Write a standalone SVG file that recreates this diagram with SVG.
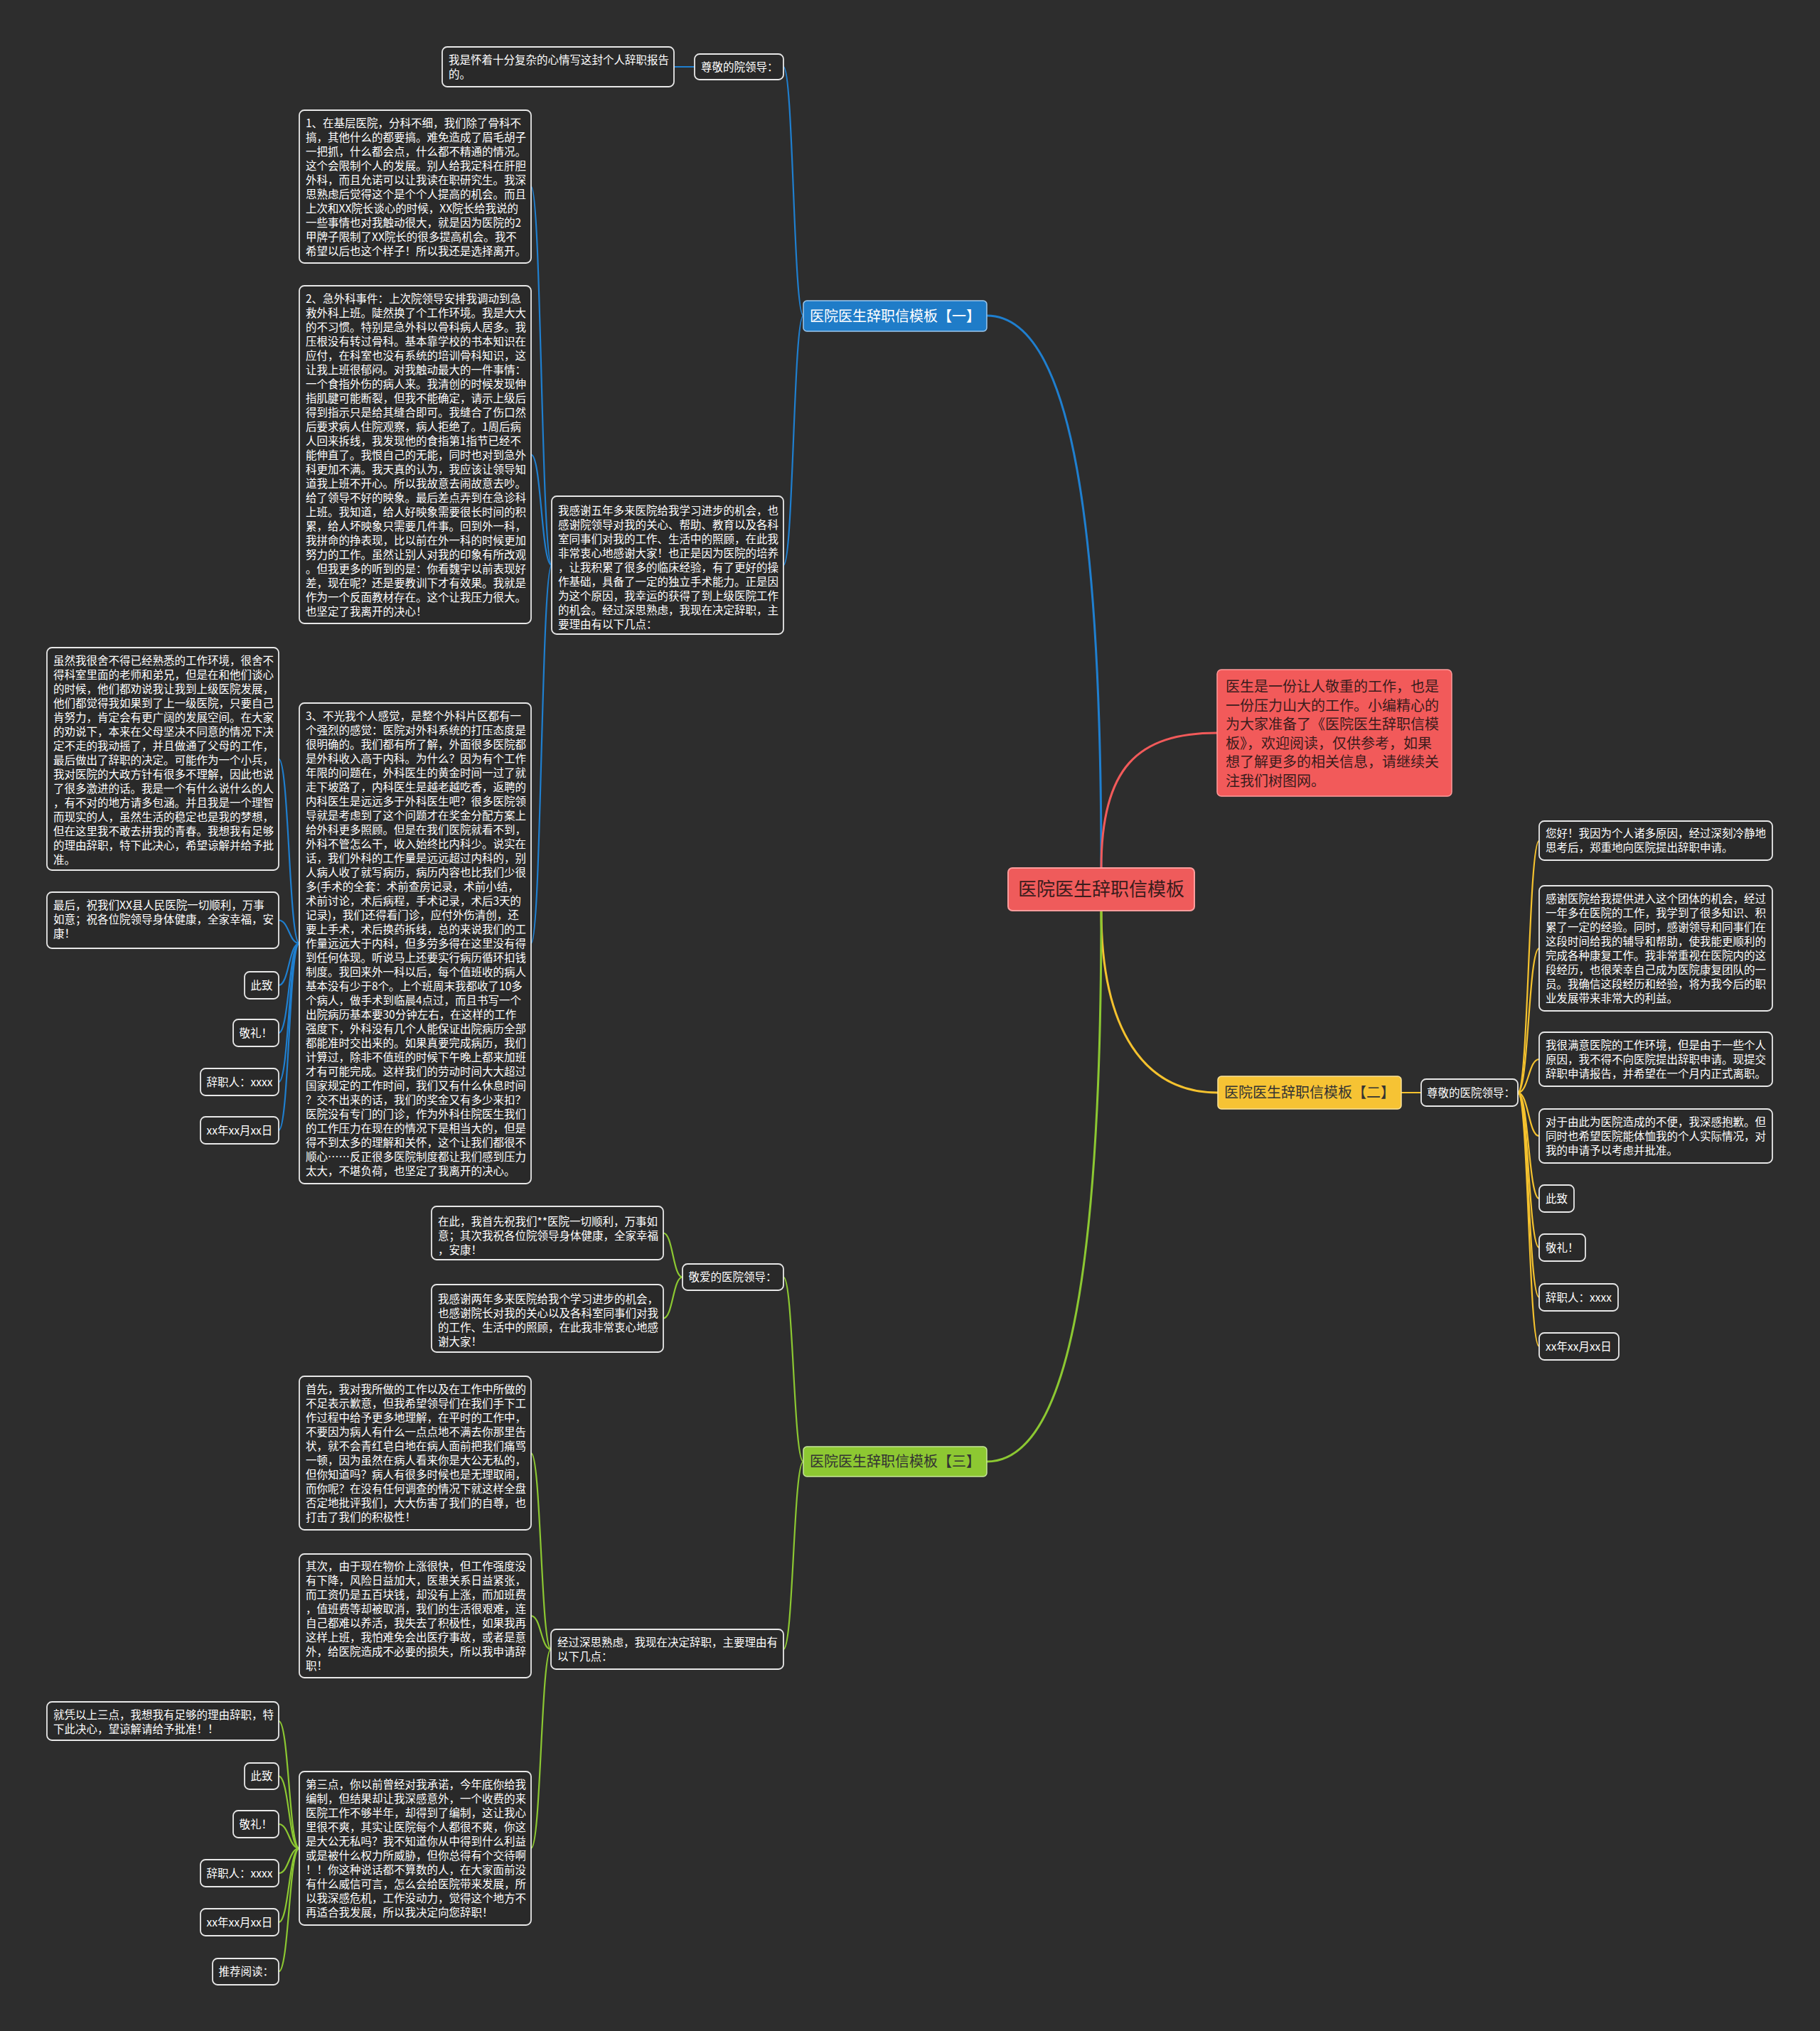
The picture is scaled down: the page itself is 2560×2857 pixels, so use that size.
<svg xmlns="http://www.w3.org/2000/svg" width="2560" height="2857" viewBox="0 0 2560 2857">
<style>
text{font-family:"Noto Sans CJK SC","Noto Sans",sans-serif}
.bx{fill:#292929;stroke:#e8e8e8;stroke-width:1.8}
.t{font-size:15.5px;fill:#ffffff}
.c{fill:none;stroke-width:2.2;stroke-linecap:round}
.cb{stroke:#1f7fcf}.cr{stroke:#f25a5a}.cy{stroke:#f5c22e}.cg{stroke:#8cc832}
.main{stroke-width:3}
.br{font-size:20px}
</style>
<rect width="2560" height="2857" fill="#2d2d2d"/>
<g id="connectors">
<path class="c cb main" d="M1549 1221 C1549 700 1500 444 1388 444"/>
<path class="c cr main" d="M1549 1221 C1549 1080 1600 1031 1712 1031"/>
<path class="c cy main" d="M1549 1281 C1549 1450 1610 1537 1713 1537"/>
<path class="c cg main" d="M1549 1281 C1549 1800 1500 2056 1388 2056"/>
<path class="c cb" d="M1130 444 C1116 444 1116 94 1102 94"/>
<path class="c cb" d="M1130 444 C1116 444 1116 795 1102 795"/>
<path class="c cb" d="M977 94 L948 94"/>
<path class="c cb" d="M776 795 C761.5 795 761.5 262.5 747 262.5"/>
<path class="c cb" d="M776 795 C761.5 795 761.5 639.5 747 639.5"/>
<path class="c cb" d="M776 795 C761.5 795 761.5 1327 747 1327"/>
<path class="c cb" d="M421 1327 C406.5 1327 406.5 1067.5 392 1067.5"/>
<path class="c cb" d="M421 1327 C406.5 1327 406.5 1294.5 392 1294.5"/>
<path class="c cb" d="M421 1327 C406.5 1327 406.5 1386 392 1386"/>
<path class="c cb" d="M421 1327 C406.5 1327 406.5 1453 392 1453"/>
<path class="c cb" d="M421 1327 C406.5 1327 406.5 1522 392 1522"/>
<path class="c cb" d="M421 1327 C406.5 1327 406.5 1590 392 1590"/>
<path class="c cy" d="M1971 1537 L1999 1537"/>
<path class="c cy" d="M2135 1537 C2150 1537 2150 1182.5 2165 1182.5"/>
<path class="c cy" d="M2135 1537 C2150 1537 2150 1334 2165 1334"/>
<path class="c cy" d="M2135 1537 C2150 1537 2150 1490 2165 1490"/>
<path class="c cy" d="M2135 1537 C2150 1537 2150 1598 2165 1598"/>
<path class="c cy" d="M2135 1537 C2150 1537 2150 1686 2165 1686"/>
<path class="c cy" d="M2135 1537 C2150 1537 2150 1755 2165 1755"/>
<path class="c cy" d="M2135 1537 C2150 1537 2150 1825 2165 1825"/>
<path class="c cy" d="M2135 1537 C2150 1537 2150 1894 2165 1894"/>
<path class="c cg" d="M1130 2056 C1116 2056 1116 1796.5 1102 1796.5"/>
<path class="c cg" d="M1130 2056 C1116 2056 1116 2320 1102 2320"/>
<path class="c cg" d="M960 1796.5 C946.5 1796.5 946.5 1734.5 933 1734.5"/>
<path class="c cg" d="M960 1796.5 C946.5 1796.5 946.5 1854.5 933 1854.5"/>
<path class="c cg" d="M775 2320 C761 2320 761 2044 747 2044"/>
<path class="c cg" d="M775 2320 C761 2320 761 2273 747 2273"/>
<path class="c cg" d="M775 2320 C761 2320 761 2600 747 2600"/>
<path class="c cg" d="M421 2600 C406.5 2600 406.5 2421 392 2421"/>
<path class="c cg" d="M421 2600 C406.5 2600 406.5 2498.5 392 2498.5"/>
<path class="c cg" d="M421 2600 C406.5 2600 406.5 2566 392 2566"/>
<path class="c cg" d="M421 2600 C406.5 2600 406.5 2635 392 2635"/>
<path class="c cg" d="M421 2600 C406.5 2600 406.5 2704 392 2704"/>
<path class="c cg" d="M421 2600 C406.5 2600 406.5 2773.5 392 2773.5"/>
</g>

<g id="root">
<rect x="1418" y="1221" width="262" height="60" rx="6" fill="#ef5b5b" stroke="#ff9c9c" stroke-width="2"/>
<text x="1549" y="1260" font-size="26" fill="#3a1c1c" text-anchor="middle">医院医生辞职信模板</text>
</g>
<g id="desc">
<rect x="1712" y="942" width="330" height="178" rx="6" fill="#f25a5a" stroke="#ff9c9c" stroke-width="1.5"/>
<text x="1724" y="973" font-size="20" fill="#3a1c1c"><tspan x="1724">医生是一份让人敬重的工作，也是</tspan><tspan x="1724" dy="26.6">一份压力山大的工作。小编精心的</tspan><tspan x="1724" dy="26.6">为大家准备了《医院医生辞职信模</tspan><tspan x="1724" dy="26.6">板》，欢迎阅读，仅供参考，如果</tspan><tspan x="1724" dy="26.6">想了解更多的相关信息，请继续关</tspan><tspan x="1724" dy="26.6">注我们树图网。</tspan></text>
</g>

<g id="branch1">
<rect x="1130" y="423" width="258" height="43" rx="5" fill="#1f7cc8" stroke="#9cc8ee" stroke-width="1.5"/>
<text x="1259" y="451.5" class="br" fill="#ffffff" text-anchor="middle">医院医生辞职信模板【一】</text>
</g>
<g id="b1-greet">
<rect class="bx" x="977" y="76" width="125" height="36" rx="7"/>
<text class="t" x="986" y="99.5">尊敬的院领导：</text>
</g>
<g id="b1-intro">
<rect class="bx" x="622" y="66" width="326" height="56" rx="7"/>
<text class="t" x="631" y="90"><tspan x="631">我是怀着十分复杂的心情写这封个人辞职报告</tspan><tspan x="631" dy="20">的。</tspan></text>
</g>
<g id="b1-thanks">
<rect class="bx" x="776" y="698" width="326" height="194" rx="7"/>
<text class="t" x="785" y="723.5"><tspan x="785">我感谢五年多来医院给我学习进步的机会，也</tspan><tspan x="785" dy="20">感谢院领导对我的关心、帮助、教育以及各科</tspan><tspan x="785" dy="20">室同事们对我的工作、生活中的照顾，在此我</tspan><tspan x="785" dy="20">非常衷心地感谢大家！也正是因为医院的培养</tspan><tspan x="785" dy="20">，让我积累了很多的临床经验，有了更好的操</tspan><tspan x="785" dy="20">作基础，具备了一定的独立手术能力。正是因</tspan><tspan x="785" dy="20">为这个原因，我幸运的获得了到上级医院工作</tspan><tspan x="785" dy="20">的机会。经过深思熟虑，我现在决定辞职，主</tspan><tspan x="785" dy="20">要理由有以下几点：</tspan></text>
</g>
<g id="b1-p1">
<rect class="bx" x="421" y="155" width="326" height="215" rx="7"/>
<text class="t" x="430" y="178.5"><tspan x="430">1、在基层医院，分科不细，我们除了骨科不</tspan><tspan x="430" dy="20">搞，其他什么的都要搞。难免造成了眉毛胡子</tspan><tspan x="430" dy="20">一把抓，什么都会点，什么都不精通的情况。</tspan><tspan x="430" dy="20">这个会限制个人的发展。别人给我定科在肝胆</tspan><tspan x="430" dy="20">外科，而且允诺可以让我读在职研究生。我深</tspan><tspan x="430" dy="20">思熟虑后觉得这个是个个人提高的机会。而且</tspan><tspan x="430" dy="20">上次和XX院长谈心的时候，XX院长给我说的</tspan><tspan x="430" dy="20">一些事情也对我触动很大，就是因为医院的2</tspan><tspan x="430" dy="20">甲牌子限制了XX院长的很多提高机会。我不</tspan><tspan x="430" dy="20">希望以后也这个样子！所以我还是选择离开。</tspan></text>
</g>
<g id="b1-p2">
<rect class="bx" x="421" y="402" width="326" height="475" rx="7"/>
<text class="t" x="430" y="425.5"><tspan x="430">2、急外科事件：上次院领导安排我调动到急</tspan><tspan x="430" dy="20">救外科上班。陡然换了个工作环境。我是大大</tspan><tspan x="430" dy="20">的不习惯。特别是急外科以骨科病人居多。我</tspan><tspan x="430" dy="20">压根没有转过骨科。基本靠学校的书本知识在</tspan><tspan x="430" dy="20">应付，在科室也没有系统的培训骨科知识，这</tspan><tspan x="430" dy="20">让我上班很郁闷。对我触动最大的一件事情：</tspan><tspan x="430" dy="20">一个食指外伤的病人来。我清创的时候发现伸</tspan><tspan x="430" dy="20">指肌腱可能断裂，但我不能确定，请示上级后</tspan><tspan x="430" dy="20">得到指示只是给其缝合即可。我缝合了伤口然</tspan><tspan x="430" dy="20">后要求病人住院观察，病人拒绝了。1周后病</tspan><tspan x="430" dy="20">人回来拆线，我发现他的食指第1指节已经不</tspan><tspan x="430" dy="20">能伸直了。我恨自己的无能，同时也对到急外</tspan><tspan x="430" dy="20">科更加不满。我天真的认为，我应该让领导知</tspan><tspan x="430" dy="20">道我上班不开心。所以我故意去闹故意去吵。</tspan><tspan x="430" dy="20">给了领导不好的映象。最后差点弄到在急诊科</tspan><tspan x="430" dy="20">上班。我知道，给人好映象需要很长时间的积</tspan><tspan x="430" dy="20">累，给人坏映象只需要几件事。回到外一科，</tspan><tspan x="430" dy="20">我拼命的挣表现，比以前在外一科的时候更加</tspan><tspan x="430" dy="20">努力的工作。虽然让别人对我的印象有所改观</tspan><tspan x="430" dy="20">。但我更多的听到的是：你看魏宇以前表现好</tspan><tspan x="430" dy="20">差，现在呢？还是要教训下才有效果。我就是</tspan><tspan x="430" dy="20">作为一个反面教材存在。这个让我压力很大。</tspan><tspan x="430" dy="20">也坚定了我离开的决心！</tspan></text>
</g>
<g id="b1-p3">
<rect class="bx" x="421" y="989" width="326" height="676" rx="7"/>
<text class="t" x="430" y="1012.5"><tspan x="430">3、不光我个人感觉，是整个外科片区都有一</tspan><tspan x="430" dy="20">个强烈的感觉：医院对外科系统的打压态度是</tspan><tspan x="430" dy="20">很明确的。我们都有所了解，外面很多医院都</tspan><tspan x="430" dy="20">是外科收入高于内科。为什么？因为有个工作</tspan><tspan x="430" dy="20">年限的问题在，外科医生的黄金时间一过了就</tspan><tspan x="430" dy="20">走下坡路了，内科医生是越老越吃香，返聘的</tspan><tspan x="430" dy="20">内科医生是远远多于外科医生吧？很多医院领</tspan><tspan x="430" dy="20">导就是考虑到了这个问题才在奖金分配方案上</tspan><tspan x="430" dy="20">给外科更多照顾。但是在我们医院就看不到，</tspan><tspan x="430" dy="20">外科不管怎么干，收入始终比内科少。说实在</tspan><tspan x="430" dy="20">话，我们外科的工作量是远远超过内科的，别</tspan><tspan x="430" dy="20">人病人收了就写病历，病历内容也比我们少很</tspan><tspan x="430" dy="20">多(手术的全套：术前查房记录，术前小结，</tspan><tspan x="430" dy="20">术前讨论，术后病程，手术记录，术后3天的</tspan><tspan x="430" dy="20">记录)，我们还得看门诊，应付外伤清创，还</tspan><tspan x="430" dy="20">要上手术，术后换药拆线，总的来说我们的工</tspan><tspan x="430" dy="20">作量远远大于内科，但多劳多得在这里没有得</tspan><tspan x="430" dy="20">到任何体现。听说马上还要实行病历循环扣钱</tspan><tspan x="430" dy="20">制度。我回来外一科以后，每个值班收的病人</tspan><tspan x="430" dy="20">基本没有少于8个。上个班周末我都收了10多</tspan><tspan x="430" dy="20">个病人，做手术到临晨4点过，而且书写一个</tspan><tspan x="430" dy="20">出院病历基本要30分钟左右，在这样的工作</tspan><tspan x="430" dy="20">强度下，外科没有几个人能保证出院病历全部</tspan><tspan x="430" dy="20">都能准时交出来的。如果真要完成病历，我们</tspan><tspan x="430" dy="20">计算过，除非不值班的时候下午晚上都来加班</tspan><tspan x="430" dy="20">才有可能完成。这样我们的劳动时间大大超过</tspan><tspan x="430" dy="20">国家规定的工作时间，我们又有什么休息时间</tspan><tspan x="430" dy="20">？交不出来的话，我们的奖金又有多少来扣？</tspan><tspan x="430" dy="20">医院没有专门的门诊，作为外科住院医生我们</tspan><tspan x="430" dy="20">的工作压力在现在的情况下是相当大的，但是</tspan><tspan x="430" dy="20">得不到太多的理解和关怀，这个让我们都很不</tspan><tspan x="430" dy="20">顺心……反正很多医院制度都让我们感到压力</tspan><tspan x="430" dy="20">太大，不堪负荷，也坚定了我离开的决心。</tspan></text>
</g>
<g id="b1-l1">
<rect class="bx" x="66" y="911" width="326" height="313" rx="7"/>
<text class="t" x="75" y="934.5"><tspan x="75">虽然我很舍不得已经熟悉的工作环境，很舍不</tspan><tspan x="75" dy="20">得科室里面的老师和弟兄，但是在和他们谈心</tspan><tspan x="75" dy="20">的时候，他们都劝说我让我到上级医院发展，</tspan><tspan x="75" dy="20">他们都觉得我如果到了上一级医院，只要自己</tspan><tspan x="75" dy="20">肯努力，肯定会有更广阔的发展空间。在大家</tspan><tspan x="75" dy="20">的劝说下，本来在父母坚决不同意的情况下决</tspan><tspan x="75" dy="20">定不走的我动摇了，并且做通了父母的工作，</tspan><tspan x="75" dy="20">最后做出了辞职的决定。可能作为一个小兵，</tspan><tspan x="75" dy="20">我对医院的大政方针有很多不理解，因此也说</tspan><tspan x="75" dy="20">了很多激进的话。我是一个有什么说什么的人</tspan><tspan x="75" dy="20">，有不对的地方请多包涵。并且我是一个理智</tspan><tspan x="75" dy="20">而现实的人，虽然生活的稳定也是我的梦想，</tspan><tspan x="75" dy="20">但在这里我不敢去拼我的青春。我想我有足够</tspan><tspan x="75" dy="20">的理由辞职，特下此决心，希望谅解并给予批</tspan><tspan x="75" dy="20">准。</tspan></text>
</g>
<g id="b1-l2">
<rect class="bx" x="66" y="1255" width="326" height="79" rx="7"/>
<text class="t" x="75" y="1279"><tspan x="75">最后，祝我们XX县人民医院一切顺利，万事</tspan><tspan x="75" dy="20">如意；祝各位院领导身体健康，全家幸福，安</tspan><tspan x="75" dy="20">康！</tspan></text>
</g>
<g id="b1-l3"><rect class="bx" x="344" y="1367" width="48" height="38" rx="7"/><text class="t" x="352.5" y="1391.5">此致</text></g>
<g id="b1-l4"><rect class="bx" x="328" y="1434" width="64" height="38" rx="7"/><text class="t" x="336.5" y="1458.5">敬礼！</text></g>
<g id="b1-l5"><rect class="bx" x="282" y="1503" width="110" height="38" rx="7"/><text class="t" x="290.5" y="1527.5">辞职人：xxxx</text></g>
<g id="b1-l6"><rect class="bx" x="282" y="1571" width="110" height="38" rx="7"/><text class="t" x="290.5" y="1595.5">xx年xx月xx日</text></g>

<g id="branch2">
<rect x="1713" y="1514" width="258" height="46" rx="5" fill="#f6c334" stroke="#fbe39a" stroke-width="1.5"/>
<text x="1842" y="1544" class="br" fill="#333333" text-anchor="middle">医院医生辞职信模板【二】</text>
</g>
<g id="b2-greet"><rect class="bx" x="1999" y="1518" width="136" height="38" rx="7"/><text class="t" x="2007" y="1542.5">尊敬的医院领导：</text></g>
<g id="b2-r1">
<rect class="bx" x="2165" y="1155" width="328" height="55" rx="7"/>
<text class="t" x="2174" y="1178"><tspan x="2174">您好！我因为个人诸多原因，经过深刻冷静地</tspan><tspan x="2174" dy="20">思考后，郑重地向医院提出辞职申请。</tspan></text>
</g>
<g id="b2-r2">
<rect class="bx" x="2165" y="1246" width="328" height="176" rx="7"/>
<text class="t" x="2174" y="1269.5"><tspan x="2174">感谢医院给我提供进入这个团体的机会，经过</tspan><tspan x="2174" dy="20">一年多在医院的工作，我学到了很多知识、积</tspan><tspan x="2174" dy="20">累了一定的经验。同时，感谢领导和同事们在</tspan><tspan x="2174" dy="20">这段时间给我的辅导和帮助，使我能更顺利的</tspan><tspan x="2174" dy="20">完成各种康复工作。我非常重视在医院内的这</tspan><tspan x="2174" dy="20">段经历，也很荣幸自己成为医院康复团队的一</tspan><tspan x="2174" dy="20">员。我确信这段经历和经验，将为我今后的职</tspan><tspan x="2174" dy="20">业发展带来非常大的利益。</tspan></text>
</g>
<g id="b2-r3">
<rect class="bx" x="2165" y="1452" width="328" height="76" rx="7"/>
<text class="t" x="2174" y="1475.5"><tspan x="2174">我很满意医院的工作环境，但是由于一些个人</tspan><tspan x="2174" dy="20">原因，我不得不向医院提出辞职申请。现提交</tspan><tspan x="2174" dy="20">辞职申请报告，并希望在一个月内正式离职。</tspan></text>
</g>
<g id="b2-r4">
<rect class="bx" x="2165" y="1560" width="328" height="76" rx="7"/>
<text class="t" x="2174" y="1583.5"><tspan x="2174">对于由此为医院造成的不便，我深感抱歉。但</tspan><tspan x="2174" dy="20">同时也希望医院能体恤我的个人实际情况，对</tspan><tspan x="2174" dy="20">我的申请予以考虑并批准。</tspan></text>
</g>
<g id="b2-r5"><rect class="bx" x="2165" y="1667" width="49" height="38" rx="7"/><text class="t" x="2174" y="1691.5">此致</text></g>
<g id="b2-r6"><rect class="bx" x="2165" y="1736" width="65" height="38" rx="7"/><text class="t" x="2174" y="1760.5">敬礼！</text></g>
<g id="b2-r7"><rect class="bx" x="2165" y="1806" width="111" height="38" rx="7"/><text class="t" x="2174" y="1830.5">辞职人：xxxx</text></g>
<g id="b2-r8"><rect class="bx" x="2165" y="1875" width="112" height="38" rx="7"/><text class="t" x="2174" y="1899.5">xx年xx月xx日</text></g>

<g id="branch3">
<rect x="1130" y="2035" width="258" height="42" rx="5" fill="#8dc832" stroke="#c8e89a" stroke-width="1.5"/>
<text x="1259" y="2063" class="br" fill="#333333" text-anchor="middle">医院医生辞职信模板【三】</text>
</g>
<g id="b3-greet"><rect class="bx" x="960" y="1778" width="142" height="37" rx="7"/><text class="t" x="968.5" y="1802">敬爱的医院领导：</text></g>
<g id="b3-g2">
<rect class="bx" x="607" y="1697" width="326" height="75" rx="7"/>
<text class="t" x="616" y="1723.5"><tspan x="616">在此，我首先祝我们**医院一切顺利，万事如</tspan><tspan x="616" dy="20">意；其次我祝各位院领导身体健康，全家幸福</tspan><tspan x="616" dy="20">，安康！</tspan></text>
</g>
<g id="b3-g3">
<rect class="bx" x="607" y="1807" width="326" height="95" rx="7"/>
<text class="t" x="616" y="1832.5"><tspan x="616">我感谢两年多来医院给我个学习进步的机会，</tspan><tspan x="616" dy="20">也感谢院长对我的关心以及各科室同事们对我</tspan><tspan x="616" dy="20">的工作、生活中的照顾，在此我非常衷心地感</tspan><tspan x="616" dy="20">谢大家！</tspan></text>
</g>
<g id="b3-reason">
<rect class="bx" x="775" y="2292" width="327" height="56" rx="7"/>
<text class="t" x="784" y="2316"><tspan x="784">经过深思熟虑，我现在决定辞职，主要理由有</tspan><tspan x="784" dy="20">以下几点：</tspan></text>
</g>
<g id="b3-p1">
<rect class="bx" x="421" y="1936" width="326" height="216" rx="7"/>
<text class="t" x="430" y="1959.5"><tspan x="430">首先，我对我所做的工作以及在工作中所做的</tspan><tspan x="430" dy="20">不足表示歉意，但我希望领导们在我们手下工</tspan><tspan x="430" dy="20">作过程中给予更多地理解，在平时的工作中，</tspan><tspan x="430" dy="20">不要因为病人有什么一点点地不满去你那里告</tspan><tspan x="430" dy="20">状，就不会青红皂白地在病人面前把我们痛骂</tspan><tspan x="430" dy="20">一顿，因为虽然在病人看来你是大公无私的，</tspan><tspan x="430" dy="20">但你知道吗？病人有很多时候也是无理取闹，</tspan><tspan x="430" dy="20">而你呢？在没有任何调查的情况下就这样全盘</tspan><tspan x="430" dy="20">否定地批评我们，大大伤害了我们的自尊，也</tspan><tspan x="430" dy="20">打击了我们的积极性！</tspan></text>
</g>
<g id="b3-p2">
<rect class="bx" x="421" y="2186" width="326" height="174" rx="7"/>
<text class="t" x="430" y="2208.5"><tspan x="430">其次，由于现在物价上涨很快，但工作强度没</tspan><tspan x="430" dy="20">有下降，风险日益加大，医患关系日益紧张，</tspan><tspan x="430" dy="20">而工资仍是五百块钱，却没有上涨，而加班费</tspan><tspan x="430" dy="20">，值班费等却被取消，我们的生活很艰难，连</tspan><tspan x="430" dy="20">自己都难以养活，我失去了积极性，如果我再</tspan><tspan x="430" dy="20">这样上班，我怕难免会出医疗事故，或者是意</tspan><tspan x="430" dy="20">外，给医院造成不必要的损失，所以我申请辞</tspan><tspan x="430" dy="20">职！</tspan></text>
</g>
<g id="b3-p3">
<rect class="bx" x="421" y="2492" width="326" height="216" rx="7"/>
<text class="t" x="430" y="2515.5"><tspan x="430">第三点，你以前曾经对我承诺，今年底你给我</tspan><tspan x="430" dy="20">编制，但结果却让我深感意外，一个收费的来</tspan><tspan x="430" dy="20">医院工作不够半年，却得到了编制，这让我心</tspan><tspan x="430" dy="20">里很不爽，其实让医院每个人都很不爽，你这</tspan><tspan x="430" dy="20">是大公无私吗？我不知道你从中得到什么利益</tspan><tspan x="430" dy="20">或是被什么权力所威胁，但你总得有个交待啊</tspan><tspan x="430" dy="20">！！你这种说话都不算数的人，在大家面前没</tspan><tspan x="430" dy="20">有什么威信可言，怎么会给医院带来发展，所</tspan><tspan x="430" dy="20">以我深感危机，工作没动力，觉得这个地方不</tspan><tspan x="430" dy="20">再适合我发展，所以我决定向您辞职！</tspan></text>
</g>
<g id="b3-l1">
<rect class="bx" x="66" y="2394" width="326" height="54" rx="7"/>
<text class="t" x="75" y="2417.5"><tspan x="75">就凭以上三点，我想我有足够的理由辞职，特</tspan><tspan x="75" dy="20">下此决心，望谅解请给予批准！！</tspan></text>
</g>
<g id="b3-l2"><rect class="bx" x="344" y="2480" width="48" height="37" rx="7"/><text class="t" x="352.5" y="2504">此致</text></g>
<g id="b3-l3"><rect class="bx" x="328" y="2547" width="64" height="38" rx="7"/><text class="t" x="336.5" y="2571.5">敬礼！</text></g>
<g id="b3-l4"><rect class="bx" x="282" y="2616" width="110" height="38" rx="7"/><text class="t" x="290.5" y="2640.5">辞职人：xxxx</text></g>
<g id="b3-l5"><rect class="bx" x="282" y="2685" width="110" height="38" rx="7"/><text class="t" x="290.5" y="2709.5">xx年xx月xx日</text></g>
<g id="b3-l6"><rect class="bx" x="299" y="2755" width="93" height="37" rx="7"/><text class="t" x="307.5" y="2779">推荐阅读：</text></g>
</svg>
